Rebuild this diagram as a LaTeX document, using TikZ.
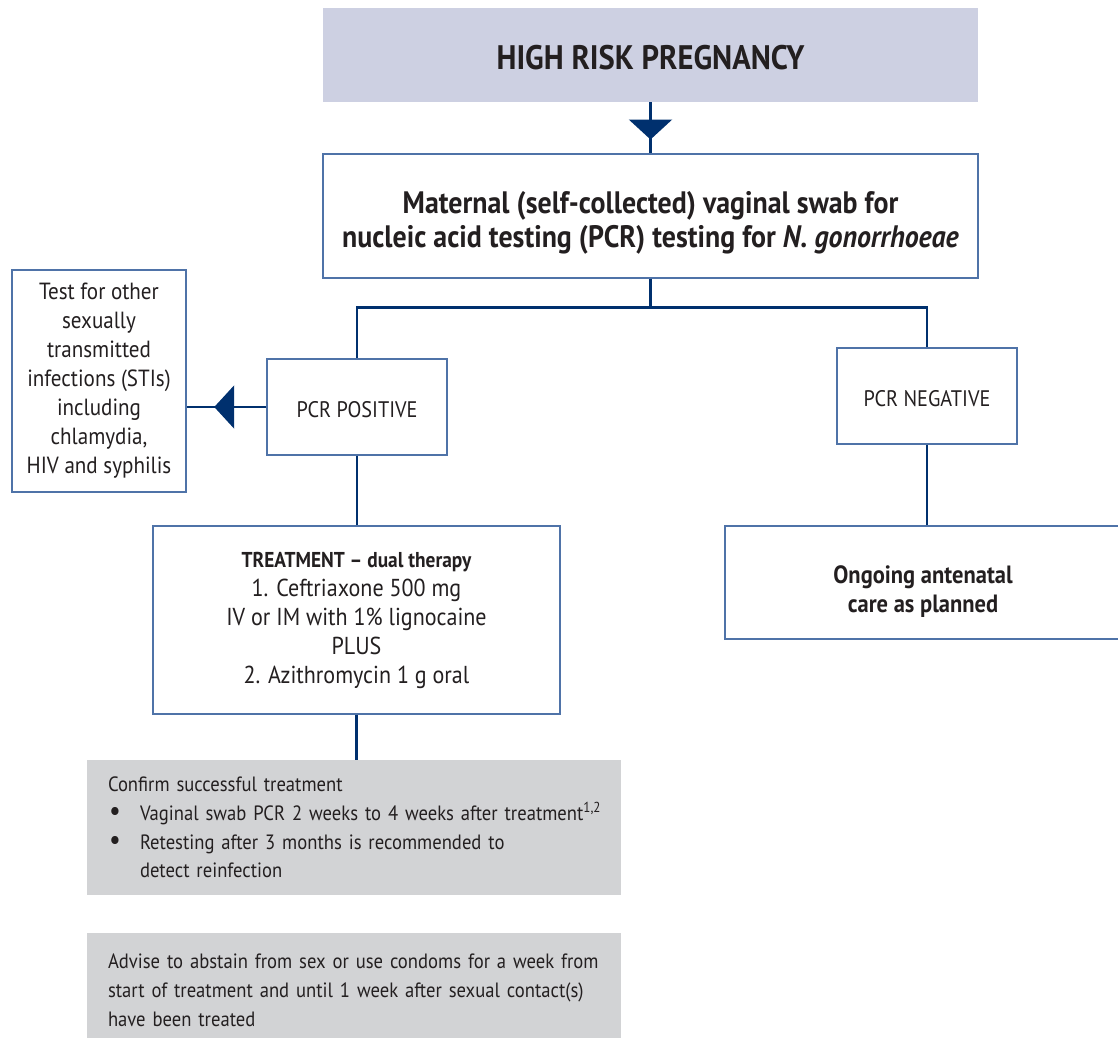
\documentclass[tikz,border=0pt]{standalone}
\usepackage{fontspec}
\setmainfont{PT Sans}[FakeStretch=0.9]
\usetikzlibrary{arrows.meta,decorations.markings}
\definecolor{link-color}{HTML}{00306E}
\definecolor{edge-color}{HTML}{4F73A8}
\definecolor{head-fill}{HTML}{CDD0E2}
\definecolor{note-fill}{HTML}{D2D3D5}
\definecolor{ink}{HTML}{231F20}
\tikzset{
  box/.style={rectangle, draw=edge-color, line width=1.4pt, fill=white, text=ink,
    align=center, inner sep=0pt, font=\fontsize{23.4}{29}\selectfont},
  headbox/.style={rectangle, fill=head-fill, text=ink, inner sep=0pt,
    font=\bfseries\fontsize{34}{38}\selectfont},
  notebox/.style={rectangle, fill=note-fill, text=ink, align=left, inner xsep=21pt,
    inner ysep=0pt, font=\fontsize{20.7}{28.7}\selectfont},
  link/.style={draw=link-color, line width=2.7pt},
  midtip/.style={postaction={decorate}, decoration={markings,
    mark=at position #1 with {\arrow{Triangle[length=20pt,width=43pt]}}}},
}
\newcommand{\bul}{\hspace*{1pt}\makebox[31pt][l]{\scalebox{1.4}{\textbullet}}}
\begin{document}
\begin{tikzpicture}[x=1pt,y=-1pt,>=Triangle,link-color]
\clip (0,0) rectangle (1118,1039);

% boxes
\node(hdr)[headbox, minimum width=655pt, minimum height=94pt] at (650.5,55) {\rule{0pt}{29pt}HIGH RISK PREGNANCY};
\node(main)[box, minimum width=655pt, minimum height=124pt, font=\bfseries\fontsize{31}{34}\selectfont] at (650.5,216)
  {\rule{0pt}{36pt}Maternal (self-collected) vaginal swab for\\nucleic acid testing (PCR) testing for \textit{N. gonorrhoeae}};
\node(sti)[box, minimum width=174pt, minimum height=222pt] at (99,381)
  {Test for other\\sexually\\transmitted\\infections (STIs)\\including\\chlamydia,\\HIV and syphilis};
\node(pos)[box, minimum width=180pt, minimum height=96pt, font=\fontsize{22.5}{29}\selectfont] at (357,407) {\rule{0pt}{22pt}PCR POSITIVE};
\node(neg)[box, minimum width=180pt, minimum height=96pt, font=\fontsize{22.5}{29}\selectfont] at (927,396) {\rule{0pt}{22pt}PCR NEGATIVE};
\node(trt)[box, minimum width=407pt, minimum height=188pt, font=\fontsize{24.5}{29}\selectfont] at (356.5,620)
  {{\bfseries\fontsize{21.5}{29}\selectfont TREATMENT -- dual therapy}\\1. Ceftriaxone 500 mg\\IV or IM with 1\% lignocaine\\PLUS\\2. Azithromycin 1 g oral};
\node(ongo)[box, minimum width=396pt, minimum height=113pt, font=\bfseries\fontsize{25}{29}\selectfont] at (923,582.5)
  {\rule{0pt}{36pt}Ongoing antenatal\\care as planned};
\node(conf)[notebox, text width=492pt, minimum height=135pt] at (354,827.5)
  {Confirm successful treatment\\
   \mbox{\bul Vaginal swab PCR 2 weeks to 4 weeks after treatment\textsuperscript{1,2}}\\
   \mbox{\bul Retesting after 3 months is recommended to}\\
   \hspace*{32pt}detect reinfection};
\node(adv)[notebox, text width=492pt, minimum height=105pt] at (354,985.5)
  {\rule{0pt}{24pt}Advise to abstain from sex or use condoms for a week from\\
   start of treatment and until 1 week after sexual contact(s)\\
   have been treated};

% connectors
\path[link, midtip=0.73] (hdr) -- (main);
\draw[link] (main.south) -- ++(0,29) coordinate(split);
\draw[link] (split) -| (pos.north);
\draw[link] (split) -| (neg.north);
\path[link, midtip=0.654] (pos.west) -- (pos.west -| sti.east);
\draw[link] (pos.south) -- (pos.south |- trt.north);
\draw[link] (neg.south) -- (neg.south |- ongo.north);
\draw[link] (trt.south) -- (trt.south |- conf.north);

\end{tikzpicture}
\end{document}
